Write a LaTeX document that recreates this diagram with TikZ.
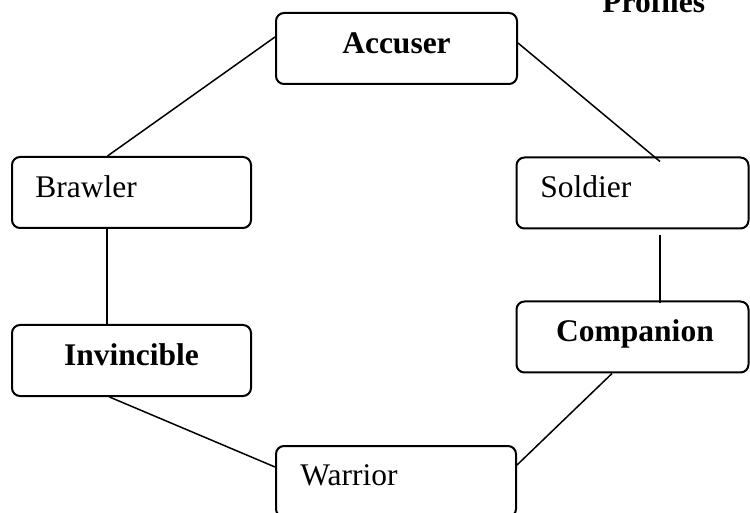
\documentclass[tikz,border=0pt]{standalone}
\usepackage{fontspec}
\setmainfont{Liberation Serif}
\usetikzlibrary{calc}
\begin{document}
\begin{tikzpicture}[x=0.5pt,y=-0.5pt,
  box/.style={draw, line width=1pt, rounded corners=4pt, rectangle,
    minimum height=35.5pt, inner sep=0pt},
  lbl/.style={font=\fontsize{15.75}{18}\selectfont, inner sep=0pt},
  conn/.style={line width=0.75pt}]
\clip (0,0) rectangle (750,513);
% boxes
\node[box, minimum width=120.5pt] (acc) at (396.5,48.5) {};
\node[box, minimum width=119.5pt] (bra) at (131.5,192.5) {};
\node[box, minimum width=116pt] (sol) at (632.5,193) {};
\node[box, minimum width=116pt] (com) at (632.5,337) {};
\node[box, minimum width=119.5pt] (inv) at (131.5,360.5) {};
\node[box, minimum width=120pt] (war) at (396,481.5) {};
% texts
\node[lbl, anchor=base] (tacc) at (396.5,54) {\bfseries Accuser};
\node[lbl, anchor=base west] (tbra) at (35,198) {Brawler};
\node[lbl, anchor=base west] (tsol) at (540,198) {Soldier};
\node[lbl, anchor=base] (tcom) at (635,342) {\bfseries Companion};
\node[lbl, anchor=base] (tinv) at (131.5,365) {\bfseries Invincible};
\node[lbl, anchor=base west] (twar) at (300,485) {Warrior};
\node[lbl, anchor=base west] (prof) at (602,13) {\bfseries Profiles};
% connectors
\draw[conn] ($(acc.west)+(0,-11.5)$) -- ($(bra.north)+(-24,0)$);
\draw[conn] ($(acc.east)+(0,-5.5)$) -- ($(sol.north)+(27.5,5)$);
\draw[conn] ($(sol.south)+(27.5,6)$) -- ($(com.north)+(27.5,3)$);
\draw[conn] ($(bra.south)+(-24.5,0)$) -- ($(inv.north)+(-24.5,0)$);
\draw[conn] ($(inv.south)+(-22,0)$) -- ($(war.west)+(0,-14.5)$);
\draw[conn] ($(com.south)+(-20.5,0)$) -- ($(war.east)+(0,-16.5)$);
\end{tikzpicture}
\end{document}
